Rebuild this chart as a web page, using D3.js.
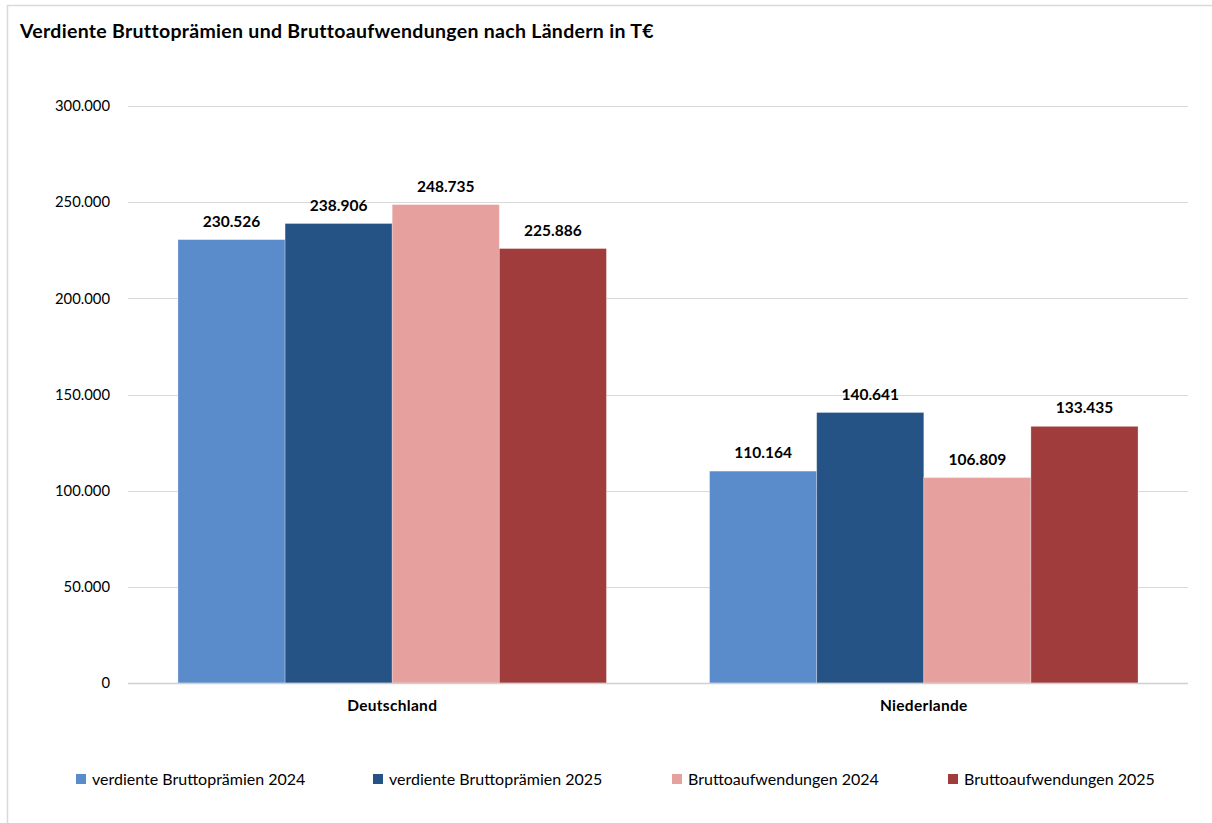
<!DOCTYPE html>
<html><head><meta charset="utf-8">
<script src="https://cdn.jsdelivr.net/npm/d3@7"></script>
<style>html,body{margin:0;padding:0;background:#fff;}svg{display:block;font-family:Lato,"Open Sans",sans-serif;}</style>
</head><body>
<script>
const categories = ["Deutschland", "Niederlande"];
const seriesNames = ["verdiente Bruttoprämien 2024", "verdiente Bruttoprämien 2025", "Bruttoaufwendungen 2024", "Bruttoaufwendungen 2025"];
const seriesColors = ["#5a8bcb", "#265386", "#e6a19f", "#a03c3c"];
const prem2024 = [230526, 110164];
const prem2025 = [238906, 140641];
const aufw2024 = [248735, 106809];
const aufw2025 = [225886, 133435];
const yTicks = [0, 50000, 100000, 150000, 200000, 250000, 300000];
const title = "Verdiente Bruttoprämien und Bruttoaufwendungen nach Ländern in T€";

(function () {
const series = [prem2024, prem2025, aufw2024, aufw2025];
const W = 1212, H = 823;
const svg = d3.select("body").append("svg").attr("width", W).attr("height", H);

// frame
svg.append("path").attr("d", `M7.5,${H} L7.5,5.5 L${W},5.5`).attr("fill","none").attr("stroke","#d9d9d9").attr("stroke-width",1.5);

svg.append("text").attr("x", 20).attr("y", 38).attr("font-size", 19.5).attr("letter-spacing", 0.3).attr("font-weight", 700).attr("fill", "#000").text(title);

const pLeft = 128, pRight = 1188, pTop = 106, pBottom = 683;
const y = d3.scaleLinear().domain([0, 300000]).range([pBottom, pTop]);
const x0 = d3.scaleBand().domain(categories).range([pLeft, pRight]).paddingInner(0.194).paddingOuter(0.094);
const x1 = d3.scaleBand().domain(d3.range(series.length)).range([0, x0.bandwidth()]);

const fmt = v => d3.format(",")(v).replace(/,/g, ".");

// gridlines
svg.append("g").selectAll("line").data(yTicks).join("line")
  .attr("x1", pLeft).attr("x2", pRight).attr("y1", d => Math.round(y(d)) + 0.5).attr("y2", d => Math.round(y(d)) + 0.5)
  .attr("stroke", "#d9d9d9").attr("stroke-width", 1.2);

const yAxis = svg.append("g").attr("transform", `translate(${pLeft},0)`)
  .call(d3.axisLeft(y).tickValues(yTicks).tickFormat(d => d === 0 ? "0" : fmt(d)).tickSize(0).tickPadding(18));
yAxis.select(".domain").remove();
yAxis.selectAll("text").attr("font-size", 14.8).attr("fill", "#000").attr("font-family", "Lato, sans-serif");

// bars
categories.forEach((c, ci) => {
  const g = svg.append("g").attr("transform", `translate(${x0(c)},0)`);
  const d0 = series.map((s, si) => ({si, v: s[ci]}));
  g.selectAll("rect").data(d0).join("rect")
    .attr("x", d => x1(d.si)).attr("width", x1.bandwidth())
    .attr("y", d => y(d.v)).attr("height", d => pBottom - y(d.v))
    .attr("fill", d => seriesColors[d.si]).attr("stroke", "#ffffff").attr("stroke-opacity", 0.35).attr("stroke-width", 0.8);
  g.selectAll("text.val").data(d0).join("text").attr("class","val")
    .attr("x", d => x1(d.si) + x1.bandwidth() / 2).attr("y", d => y(d.v) - 13)
    .attr("text-anchor", "middle").attr("font-size", 15.5).attr("font-weight", 700).attr("fill", "#000")
    .text(d => fmt(d.v));
});

// zero axis line
svg.append("line").attr("x1", pLeft).attr("x2", pRight).attr("y1", pBottom + 0.5).attr("y2", pBottom + 0.5).attr("stroke", "#d0d0d0").attr("stroke-width", 1.5);

const xAxis = svg.append("g").attr("transform", `translate(0,${pBottom})`)
  .call(d3.axisBottom(x0).tickSize(0).tickPadding(17));
xAxis.select(".domain").remove();
xAxis.selectAll("text").attr("font-size", 15.5).attr("letter-spacing", 0.3).attr("font-weight", 700).attr("fill", "#000").attr("font-family", "Lato, sans-serif");

// legend
const legX = [76, 373, 672, 948];
const lg = svg.append("g");
seriesNames.forEach((n, i) => {
  lg.append("rect").attr("x", legX[i]).attr("y", 774).attr("width", 10).attr("height", 10).attr("fill", seriesColors[i]);
  lg.append("text").attr("x", legX[i] + 16).attr("y", 784.5).attr("font-size", 16).attr("fill", "#000").text(n);
});
})();
</script>
</body></html>
